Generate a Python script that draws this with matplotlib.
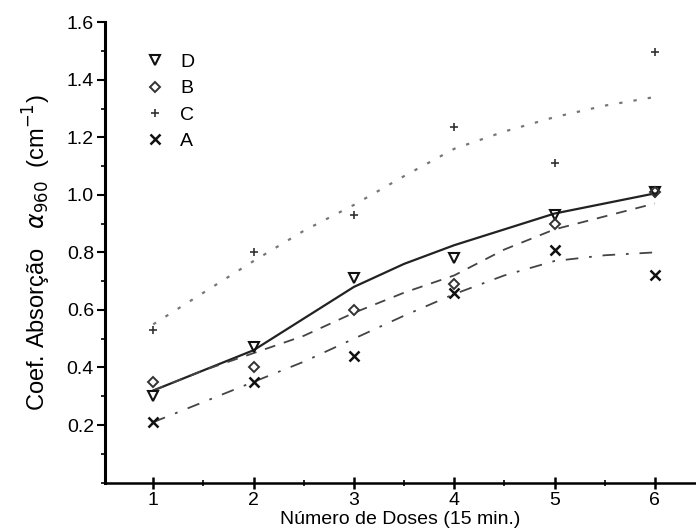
import matplotlib.pyplot as plt
from matplotlib.ticker import MultipleLocator

plt.rcParams['font.family'] = ['Liberation Sans', 'DejaVu Sans']

# medidas (pontos)
doses = [1, 2, 3, 4, 5, 6]
D = [0.30, 0.47, 0.71, 0.78, 0.93, 1.01]
B = [0.35, 0.40, 0.60, 0.69, 0.90, 1.01]
C = [0.53, 0.80, 0.93, 1.235, 1.11, 1.495]
A = [0.21, 0.35, 0.44, 0.66, 0.81, 0.72]

# curvas de ajuste
x_fit = [1, 1.5, 2, 2.5, 3, 3.5, 4, 4.5, 5, 5.5, 6]
D_fit = [0.32, 0.39, 0.46, 0.57, 0.68, 0.76, 0.825, 0.88, 0.935, 0.97, 1.005]
B_fit = [0.32, 0.39, 0.45, 0.51, 0.59, 0.66, 0.72, 0.81, 0.88, 0.925, 0.97]
C_fit = [0.55, 0.66, 0.77, 0.875, 0.965, 1.065, 1.16, 1.22, 1.27, 1.31, 1.34]
A_fit = [0.21, 0.28, 0.35, 0.42, 0.50, 0.58, 0.655, 0.72, 0.77, 0.79, 0.80]

fig = plt.figure(figsize=(6.96, 5.28), dpi=100)
ax = fig.add_axes([0.151, 0.086, 0.849, 0.872])

ax.plot(x_fit, D_fit, color='#222222', lw=1.6, ls='-')
ax.plot(x_fit, B_fit, color='#444444', lw=1.3, ls=(0, (6, 5)))
ax.plot(x_fit, C_fit, color='#777777', lw=1.6, ls=(0, (1.5, 5)))
ax.plot(x_fit, A_fit, color='#444444', lw=1.3, ls=(0, (7, 6, 1.5, 6)))

ax.plot(doses, D, ls='none', marker='v', ms=7, mfc='none', mec='#111111', mew=1.5, label='D')
ax.plot(doses, B, ls='none', marker='D', ms=5, mfc='none', mec='#333333', mew=1.4, label='B')
ax.plot(doses, C, ls='none', marker='+', ms=6, mec='#333333', mew=1.2, label='C')
ax.plot(doses, A, ls='none', marker='x', ms=7, mec='#111111', mew=1.8, label='A')

ax.set_xlim(0.52, 6.41)
ax.set_ylim(0, 1.6)
ax.set_xticks(doses)
ax.xaxis.set_minor_locator(MultipleLocator(0.5))
ax.set_yticks([0.2, 0.4, 0.6, 0.8, 1.0, 1.2, 1.4, 1.6])
ax.yaxis.set_minor_locator(MultipleLocator(0.1))
ax.yaxis.set_major_formatter(plt.FuncFormatter(lambda v, p: '%.1f' % v))

for s in ['top', 'right']:
    ax.spines[s].set_visible(False)
ax.spines['left'].set_linewidth(2.2)
ax.spines['bottom'].set_linewidth(1.8)
ax.tick_params(axis='y', which='major', direction='out', length=6, width=1.5, labelsize=14, pad=2)
ax.tick_params(axis='y', which='minor', direction='out', length=3, width=1.2)
ax.tick_params(axis='x', which='major', direction='inout', length=8, width=1.8, labelsize=14, pad=3)
ax.tick_params(axis='x', which='minor', direction='inout', length=5, width=1.2)

ax.set_xlabel('Número de Doses (15 min.)', fontsize=14, labelpad=1)
ax.set_ylabel(r'Coef. Absorção   $\alpha_{960}$  (cm$^{-1}$)', fontsize=17, labelpad=10)

ax.legend(loc='upper left', bbox_to_anchor=(0.035, 0.97), frameon=False, fontsize=14,
          handletextpad=0.7, labelspacing=0.45, handlelength=1.2)

plt.savefig('out.png', dpi=100)
